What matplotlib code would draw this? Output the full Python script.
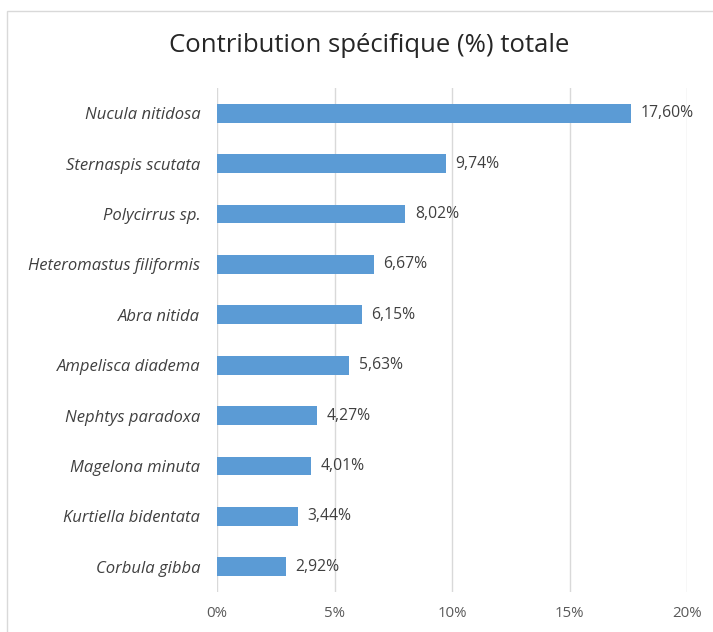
import matplotlib
matplotlib.use("Agg")
import matplotlib.pyplot as plt
from matplotlib.patches import Rectangle

species = [
    "Nucula nitidosa",
    "Sternaspis scutata",
    "Polycirrus sp.",
    "Heteromastus filiformis",
    "Abra nitida",
    "Ampelisca diadema",
    "Nephtys paradoxa",
    "Magelona minuta",
    "Kurtiella bidentata",
    "Corbula gibba",
]
contribution = [17.60, 9.74, 8.02, 6.67, 6.15, 5.63, 4.27, 4.01, 3.44, 2.92]
x_ticks = [0, 5, 10, 15, 20]
x_tick_labels = ["0%", "5%", "10%", "15%", "20%"]
title = "Contribution spécifique (%) totale"

plt.rcParams["font.family"] = ["Open Sans", "DejaVu Sans"]

fig = plt.figure(figsize=(7.13, 6.32), dpi=100)
fig.patch.set_facecolor("white")

# light frame around the chart area
fig.patches.append(Rectangle((7 / 713, -0.05), 1.2, 1 - 11 / 632 + 0.05,
                             transform=fig.transFigure, fill=False,
                             edgecolor="#D9D9D9", linewidth=1.0))

ax = fig.add_axes([217 / 713, 40 / 632, 470 / 713, 504 / 632])
positions = list(range(len(species)))
ax.barh(positions, contribution, height=0.37, color="#5B9BD5", zorder=3)
ax.set_ylim(len(species) - 0.5, -0.5)
ax.set_xlim(0, 20)

ax.set_yticks(positions)
ax.set_yticklabels(species, fontstyle="italic", fontsize=12, color="#404040")
ax.set_xticks(x_ticks)
ax.set_xticklabels(x_tick_labels, fontsize=10.8, color="#595959")
ax.tick_params(axis="both", length=0)
ax.tick_params(axis="y", pad=12)
ax.tick_params(axis="x", pad=10)

ax.grid(axis="x", color="#D9D9D9", linewidth=1.0, zorder=0)
for s in ax.spines.values():
    s.set_visible(False)

for p, v in zip(positions, contribution):
    ax.annotate(f"{v:.2f}%".replace(".", ","), (v, p), xytext=(7, 0),
                textcoords="offset points", va="center", ha="left",
                fontsize=11.3, color="#404040")

fig.text(369 / 713, 1 - 46 / 632, title, ha="center", va="center",
         fontsize=18.5, color="#262626")

fig.savefig("out.png", dpi=100)
